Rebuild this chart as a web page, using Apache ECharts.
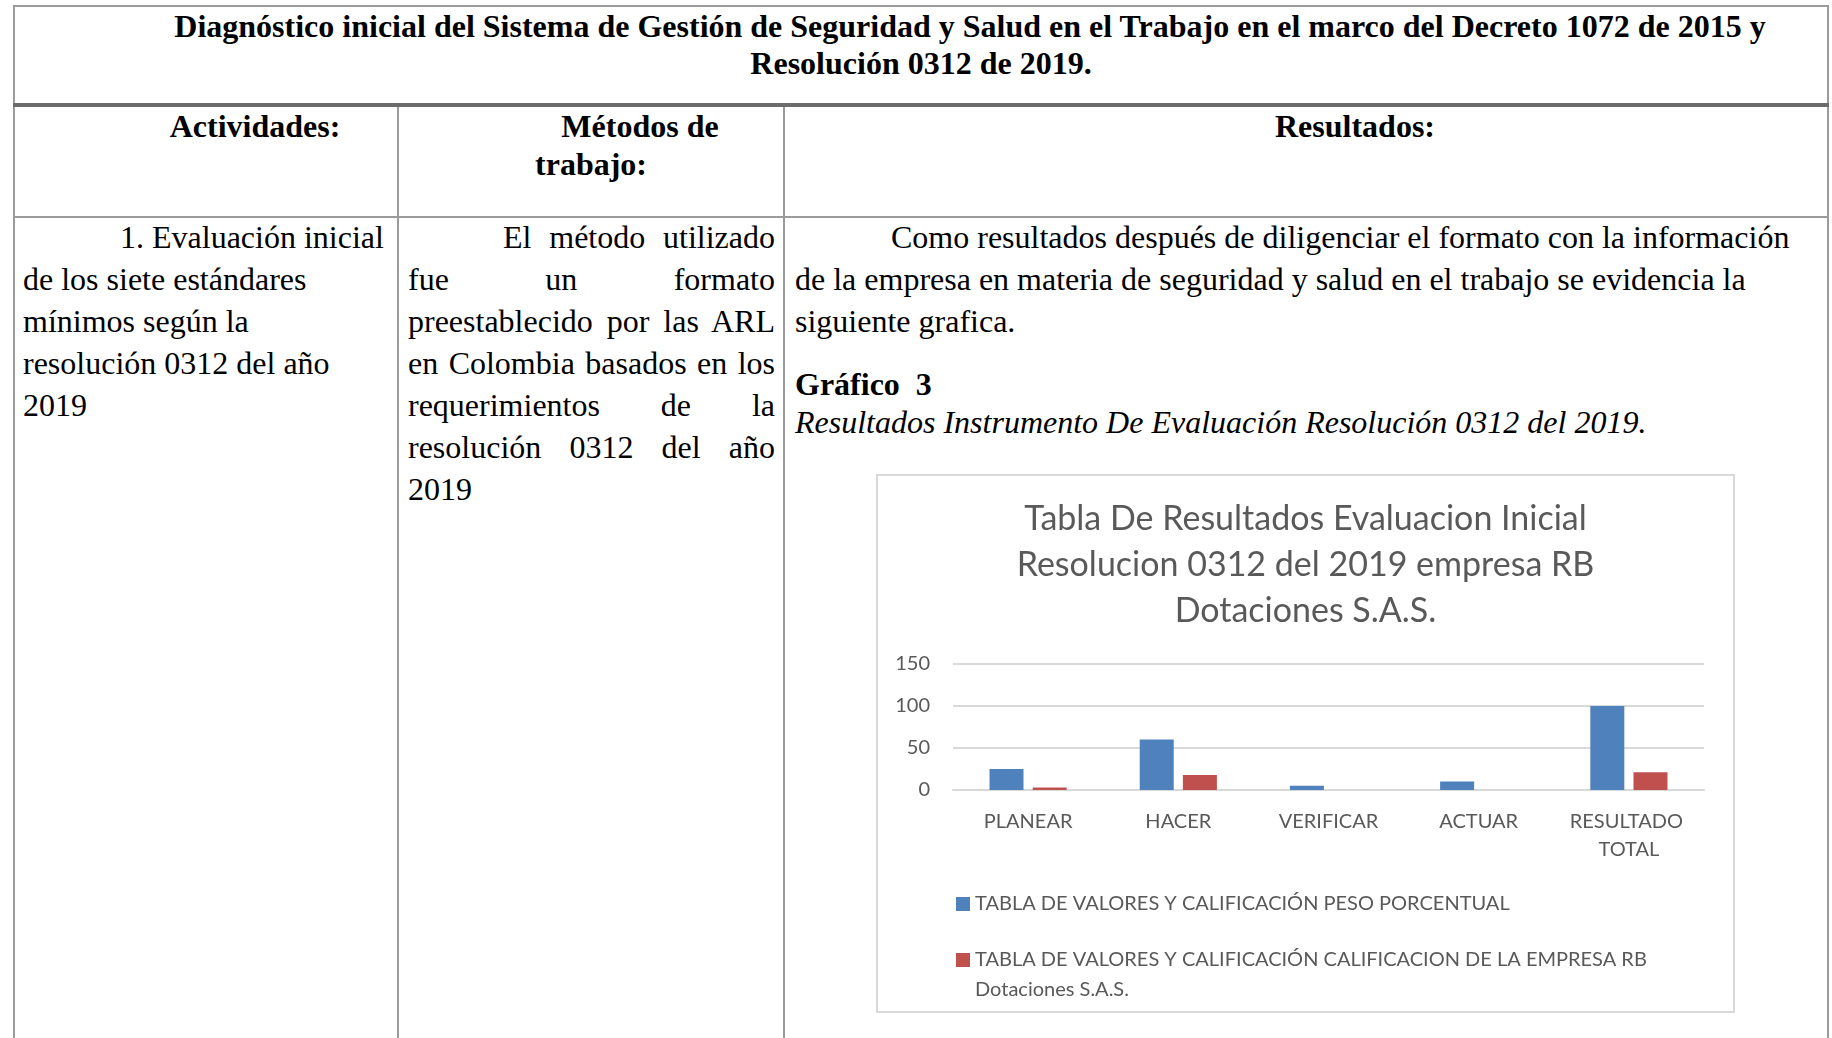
<!DOCTYPE html>
<html>
<head>
<meta charset="utf-8">
<title>Diagnóstico inicial SG-SST</title>
<script src="https://cdn.jsdelivr.net/npm/echarts@6/dist/echarts.min.js"></script>
<style>
body {
  margin: 0;
  width: 1832px;
  height: 1038px;
  overflow: hidden;
  background: #fff;
  position: relative;
  font-family: "Liberation Serif", "Times New Roman", serif;
  color: #000;
}
.ln { position: absolute; background: #9b9b9b; }
.t { position: absolute; font-size: 32px; line-height: 42px; white-space: nowrap; }
.b { font-weight: bold; }
.c { text-align: center; }
.j { text-align: justify; text-align-last: justify; }
#chart { position: absolute; left: 876px; top: 474px; width: 859px; height: 539px; }
.frame { position: absolute; left: 876px; top: 474px; width: 859px; height: 539px;
  box-sizing: border-box; border: 2px solid #d9d9d9; pointer-events: none; }
</style>
</head>
<body>

<!-- bordes de la tabla -->
<div class="ln" style="left:13px;top:5px;width:1816px;height:2px"></div>
<div class="ln" style="left:13px;top:5px;width:2px;height:1033px"></div>
<div class="ln" style="left:1827px;top:5px;width:2px;height:1033px"></div>
<div class="ln" style="left:13px;top:103px;width:1816px;height:4px;background:#6b6b6b"></div>
<div class="ln" style="left:13px;top:216px;width:1816px;height:2px"></div>
<div class="ln" style="left:397px;top:107px;width:2px;height:931px"></div>
<div class="ln" style="left:783px;top:107px;width:2px;height:931px"></div>

<!-- titulo -->
<div class="t b c" style="left:15px;width:1812px;top:8px;line-height:37px;text-indent:98px">
Diagnóstico inicial del Sistema de Gestión de Seguridad y Salud en el Trabajo en el marco del Decreto 1072 de 2015 y<br>Resolución 0312 de 2019.
</div>

<!-- encabezados -->
<div class="t b c" style="left:15px;width:382px;top:107px;line-height:38px;text-indent:98px">Actividades:</div>
<div class="t b c" style="left:399px;width:384px;top:107px;line-height:38px;text-indent:98px">Métodos de<br>trabajo:</div>
<div class="t b c" style="left:785px;width:1042px;top:107px;line-height:38px;text-indent:98px">Resultados:</div>

<!-- columna actividades -->
<div class="t" style="left:23px;top:216px">
<span style="padding-left:97px">1. Evaluación inicial</span><br>de los siete estándares<br>mínimos según la<br>resolución 0312 del año<br>2019
</div>

<!-- columna metodos (justificado) -->
<div class="t j" style="left:503px;width:272px;top:216px">El método utilizado</div>
<div class="t j" style="left:408px;width:367px;top:258px">fue un formato</div>
<div class="t j" style="left:408px;width:367px;top:300px">preestablecido por las ARL</div>
<div class="t j" style="left:408px;width:367px;top:342px">en Colombia basados en los</div>
<div class="t j" style="left:408px;width:367px;top:384px">requerimientos de la</div>
<div class="t j" style="left:408px;width:367px;top:426px">resolución 0312 del año</div>
<div class="t" style="left:408px;top:468px">2019</div>

<!-- columna resultados -->
<div class="t" style="left:795px;top:216px">
<span style="padding-left:96px">Como resultados después de diligenciar el formato con la información</span><br>de la empresa en materia de seguridad y salud en el trabajo se evidencia la<br>siguiente grafica.
</div>
<div class="t b" style="left:795px;top:363px">Gráfico&nbsp; 3</div>
<div class="t" style="left:795px;top:401px;font-style:italic">Resultados Instrumento De Evaluación Resolución 0312 del 2019.</div>

<div id="chart"></div>
<div class="frame"></div>

<script>
// datos del grafico
var categorias = ['PLANEAR', 'HACER', 'VERIFICAR', 'ACTUAR', 'RESULTADO TOTAL'];
var pesoPorcentual = [25, 60, 5, 10, 100];
var calificacionEmpresa = [3, 18, 0, 0, 21];
var nombresSeries = [
  'TABLA DE VALORES Y CALIFICACIÓN PESO PORCENTUAL',
  'TABLA DE VALORES Y CALIFICACIÓN CALIFICACION DE LA EMPRESA RB Dotaciones S.A.S.'
];
var ejeY = { min: 0, max: 150, paso: 50 };
var titulo = 'Tabla De Resultados Evaluacion Inicial\nResolucion 0312 del 2019 empresa RB\nDotaciones S.A.S.';

var fuente = 'Lato, "Open Sans", sans-serif';
var gris = '#595959';

var myChart = echarts.init(document.getElementById('chart'));
myChart.setOption({
  animation: false,
  color: ['#4F81BD', '#C0504D'],
  title: {
    text: titulo,
    left: 'center',
    top: 17,
    textStyle: {
      fontFamily: fuente,
      fontSize: 34,
      fontWeight: 'normal',
      lineHeight: 46,
      color: gris
    }
  },
  legend: [
    {
      data: [nombresSeries[0]],
      left: 80,
      top: 415,
      padding: 0,
      itemWidth: 14,
      itemHeight: 14,
      icon: 'rect',
      textStyle: { fontFamily: fuente, fontSize: 20, color: gris, lineHeight: 30 }
    },
    {
      data: [nombresSeries[1]],
      left: 80,
      top: 441,
      padding: 0,
      itemWidth: 14,
      itemHeight: 14,
      icon: 'rect',
      // el nombre largo va en dos lineas y el cuadro queda junto a la primera
      // (la linea vacia de arriba compensa el centrado vertical de la leyenda)
      formatter: function (name) {
        return '\n' + name.replace(' Dotaciones', '\nDotaciones');
      },
      textStyle: { fontFamily: fuente, fontSize: 20, color: gris, lineHeight: 30 }
    }
  ],
  grid: { left: 77, top: 190, width: 751, height: 126 },
  xAxis: {
    type: 'category',
    data: categorias,
    axisLine: { lineStyle: { color: '#d9d9d9', width: 2 } },
    axisTick: { show: false },
    axisLabel: {
      fontFamily: fuente,
      fontSize: 20,
      color: gris,
      lineHeight: 28,
      margin: 18,
      width: 140,
      overflow: 'break',
      interval: 0
    }
  },
  yAxis: {
    type: 'value',
    min: ejeY.min,
    max: ejeY.max,
    interval: ejeY.paso,
    axisLine: { show: false },
    axisTick: { show: false },
    splitLine: { lineStyle: { color: '#d9d9d9', width: 2 } },
    axisLabel: { fontFamily: fuente, fontSize: 20, color: gris, margin: 23 }
  },
  series: [
    {
      name: nombresSeries[0],
      type: 'bar',
      data: pesoPorcentual,
      barWidth: 34,
      barGap: '27%'
    },
    {
      name: nombresSeries[1],
      type: 'bar',
      data: calificacionEmpresa,
      barWidth: 34,
      barGap: '27%'
    }
  ]
});
</script>
</body>
</html>
